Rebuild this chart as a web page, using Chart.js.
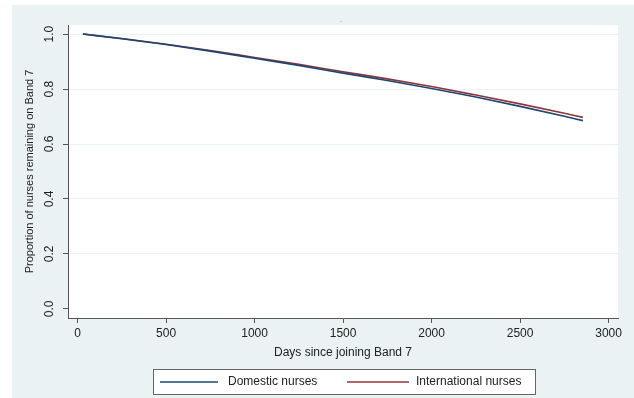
<!DOCTYPE html>
<html>
<head>
<meta charset="utf-8">
<script src="https://cdn.jsdelivr.net/npm/chart.js@4.4.1/dist/chart.umd.min.js"></script>
<style>
  html, body { margin: 0; padding: 0; background: #fff; }
  #wrap { width: 634px; height: 398px; }
</style>
</head>
<body>
<div id="wrap"><canvas id="survChart" width="634" height="398"></canvas></div>
<script>
// Data
const days = [30, 250, 500, 750, 1000, 1250, 1500, 1750, 2000, 2250, 2500, 2750, 2855];
const domestic = [1.0, 0.983, 0.962, 0.938, 0.912, 0.886, 0.858, 0.831, 0.802, 0.771, 0.737, 0.701, 0.685];
const international = [1.0, 0.984, 0.963, 0.940, 0.915, 0.890, 0.863, 0.837, 0.809, 0.778, 0.746, 0.712, 0.697];
const xTicks = [0, 500, 1000, 1500, 2000, 2500, 3000];
const yTicks = [0.0, 0.2, 0.4, 0.6, 0.8, 1.0];
const seriesNames = ['Domestic nurses', 'International nurses'];
const seriesColors = ['#1a476f', '#90353b'];

const FONT = "'Liberation Sans', Arial, sans-serif";
const BG = '#eaf2f3';

// Stata-like background, rotated y labels, titles and boxed legend
const stataLook = {
    id: 'stataLook',
    beforeDraw(chart) {
        const { ctx, chartArea } = chart;
        ctx.save();
        ctx.fillStyle = '#ffffff';
        ctx.fillRect(0, 0, chart.width, chart.height);
        ctx.fillStyle = BG;
        ctx.fillRect(12, 5, chart.width - 12, chart.height - 5);
        ctx.fillStyle = '#ffffff';
        ctx.fillRect(chartArea.left, chartArea.top, chartArea.right - chartArea.left, chartArea.bottom - chartArea.top);
        ctx.restore();
    },
    afterDraw(chart) {
        const { ctx, chartArea } = chart;
        const yScale = chart.scales.y;
        ctx.save();
        ctx.fillStyle = '#222';
        ctx.font = '12px ' + FONT;
        ctx.textAlign = 'center';
        ctx.textBaseline = 'middle';

        // y tick labels, rotated like Stata
        yTicks.forEach(v => {
            const py = yScale.getPixelForValue(v);
            ctx.save();
            ctx.translate(50, py);
            ctx.rotate(-Math.PI / 2);
            ctx.fillText(v.toFixed(1), 0, 0);
            ctx.restore();
        });

        // y axis title
        ctx.save();
        ctx.font = '11px ' + FONT;
        ctx.translate(30, (chartArea.top + chartArea.bottom) / 2);
        ctx.rotate(-Math.PI / 2);
        ctx.fillText('Proportion of nurses remaining on Band 7', 0, 0);
        ctx.restore();

        // x axis title
        ctx.fillText('Days since joining Band 7', (chartArea.left + chartArea.right) / 2, 353);

        // tiny empty title mark
        ctx.fillStyle = '#999';
        ctx.font = '7px ' + FONT;
        ctx.fillText('-', 341, 21);

        // legend box
        ctx.fillStyle = '#ffffff';
        ctx.fillRect(153, 369, 382, 25);
        ctx.strokeStyle = '#666';
        ctx.lineWidth = 1;
        ctx.strokeRect(153.5, 369.5, 382, 25);

        const legendItems = [
            { x1: 160, x2: 218, tx: 228 },
            { x1: 347, x2: 409, tx: 416 }
        ];
        ctx.font = '12px ' + FONT;
        ctx.textAlign = 'left';
        legendItems.forEach((it, i) => {
            ctx.strokeStyle = seriesColors[i];
            ctx.lineWidth = 1.5;
            ctx.beginPath();
            ctx.moveTo(it.x1, 382);
            ctx.lineTo(it.x2, 382);
            ctx.stroke();
            ctx.fillStyle = '#222';
            ctx.fillText(seriesNames[i], it.tx, 382);
        });
        ctx.restore();
    }
};

const ctx = document.getElementById('survChart').getContext('2d');

new Chart(ctx, {
    type: 'line',
    data: {
        datasets: [
            {
                label: seriesNames[0],
                data: days.map((d, i) => ({ x: d, y: domestic[i] })),
                borderColor: seriesColors[0],
                borderWidth: 1.6,
                pointRadius: 0,
                cubicInterpolationMode: 'monotone'
            },
            {
                label: seriesNames[1],
                data: days.map((d, i) => ({ x: d, y: international[i] })),
                borderColor: seriesColors[1],
                borderWidth: 1.6,
                pointRadius: 0,
                cubicInterpolationMode: 'monotone'
            }
        ]
    },
    options: {
        responsive: false,
        animation: false,
        layout: { padding: { left: 0, top: 25, right: 16, bottom: 0 } },
        plugins: {
            legend: { display: false },
            title: { display: false },
            tooltip: { enabled: false }
        },
        scales: {
            x: {
                type: 'linear',
                min: -54,
                max: 3053,
                afterBuildTicks: scale => { scale.ticks = xTicks.map(v => ({ value: v })); },
                afterFit: scale => { scale.height = 80; },
                border: { display: true, color: '#555', width: 1 },
                grid: {
                    drawOnChartArea: false,
                    drawTicks: true,
                    tickLength: 5,
                    tickColor: '#555'
                },
                ticks: {
                    color: '#222',
                    font: { family: FONT, size: 12 },
                    padding: 3,
                    maxRotation: 0,
                    autoSkip: false,
                    callback: v => String(v)
                }
            },
            y: {
                type: 'linear',
                min: -0.033,
                max: 1.033,
                afterBuildTicks: scale => { scale.ticks = yTicks.map(v => ({ value: v })); },
                afterFit: scale => { scale.width = 68; },
                border: { display: true, color: '#555', width: 1 },
                grid: {
                    color: c => (c.tick && c.tick.value === 0) ? 'rgba(0,0,0,0)' : BG,
                    lineWidth: 1,
                    drawTicks: true,
                    tickLength: 5,
                    tickColor: '#555'
                },
                ticks: { display: false }
            }
        }
    },
    plugins: [stataLook]
});
</script>
</body>
</html>
